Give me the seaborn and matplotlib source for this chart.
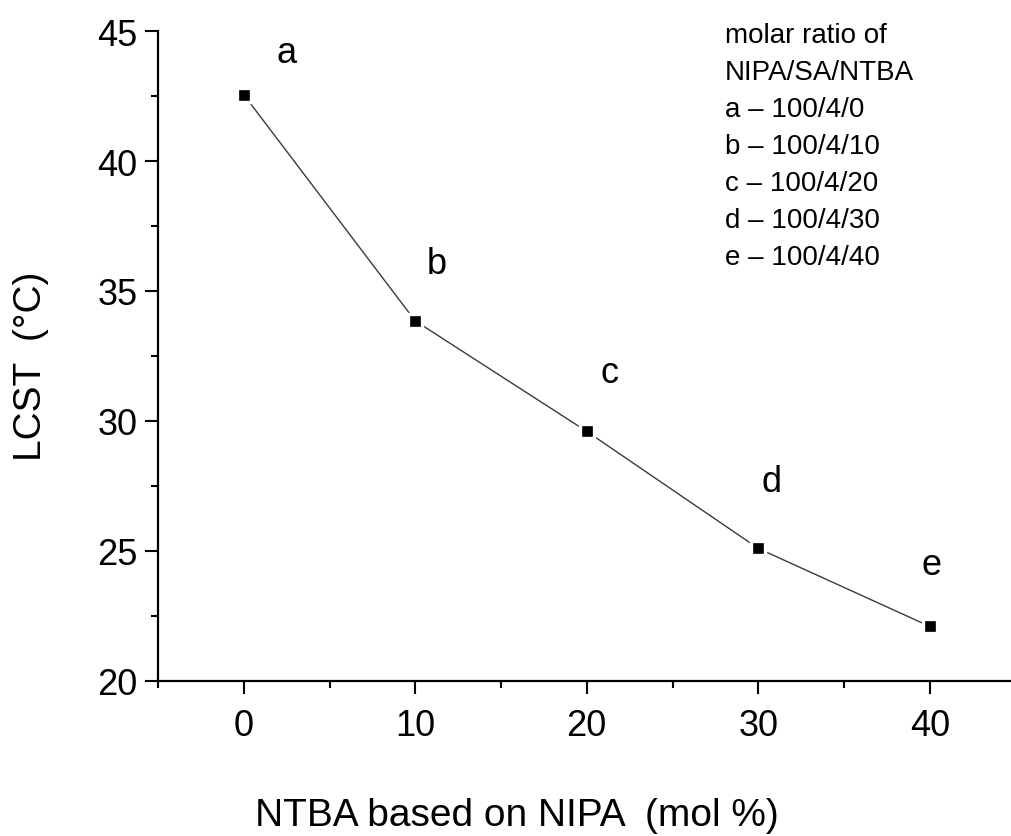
import matplotlib
matplotlib.use("Agg")
import matplotlib.pyplot as plt
from matplotlib.ticker import MultipleLocator
import seaborn as sns
import pandas as pd

# ---- data ----
ntba = [0, 10, 20, 30, 40]
lcst = [42.55, 33.85, 29.6, 25.1, 22.1]
point_labels = ["a", "b", "c", "d", "e"]
legend_lines = ["molar ratio of", "NIPA/SA/NTBA", "a \u2013 100/4/0", "b \u2013 100/4/10",
                "c \u2013 100/4/20", "d \u2013 100/4/30", "e \u2013 100/4/40"]
x_title = "NTBA based on NIPA  (mol %)"
y_title = "LCST  (\u00b0C)"

sns.set_theme(style="ticks")
plt.rcParams["font.family"] = ["Liberation Sans", "DejaVu Sans"]

df = pd.DataFrame({"x": ntba, "y": lcst})

W, H = 1011, 837
fig = plt.figure(figsize=(W / 100, H / 100), dpi=100)
ax = fig.add_axes([158 / W, 155 / H, 853 / W, 650 / H])

sns.lineplot(data=df, x="x", y="y", ax=ax, color="#3a3a3a", linewidth=1.0,
             marker="s", markersize=9.6, markerfacecolor="black",
             markeredgecolor="white", markeredgewidth=2.4)

ax.set_xlim(-5, -5 + 853 / 17.15)
ax.set_ylim(20, 45)
ax.xaxis.set_major_locator(MultipleLocator(10))
ax.xaxis.set_minor_locator(MultipleLocator(5))
ax.yaxis.set_major_locator(MultipleLocator(5))
ax.yaxis.set_minor_locator(MultipleLocator(2.5))
sns.despine(ax=ax)
for s in ("left", "bottom"):
    ax.spines[s].set_linewidth(1.6)
    ax.spines[s].set_color("black")
ax.tick_params(which="major", direction="out", length=9.4, width=1.5, color="black",
               labelsize=26, labelcolor="black")
ax.tick_params(which="minor", direction="out", length=4.7, width=1.5, color="black")
ax.tick_params(axis="x", which="major", pad=10)
ax.tick_params(axis="y", which="major", pad=5.5)

ax.set_xlabel(x_title, fontsize=28, color="black")
ax.xaxis.label.set_va("baseline")
ax.xaxis.set_label_coords((517 - 158) / 853, (682 - 826) / 650)
ax.set_ylabel(y_title, fontsize=28, color="black")
ax.yaxis.label.set_va("center")
ax.yaxis.set_label_coords((31 - 158) / 853, (682 - 366) / 650)

offsets = [(2.5, 1.25), (1.25, 1.85), (1.3, 1.9), (0.8, 2.2), (0.1, 2.0)]
for lab, xv, yv, (dx, dy) in zip(point_labels, ntba, lcst, offsets):
    ax.text(xv + dx, yv + dy, lab, fontsize=26, ha="center", va="baseline", color="black")

for i, line in enumerate(legend_lines):
    fig.text(725 / W, 1 - (43 + i * 37) / H, line, fontsize=20, ha="left",
             va="baseline", color="black")

fig.savefig("out.png", dpi=100)
